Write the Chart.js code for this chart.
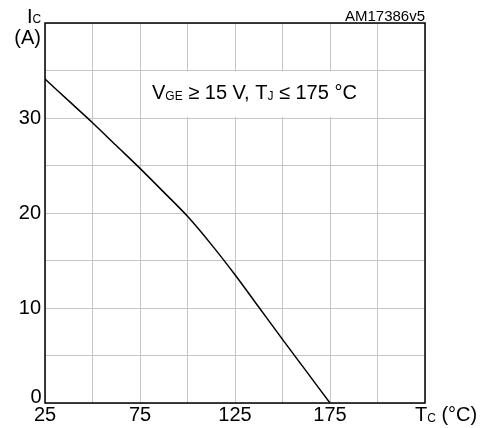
<!DOCTYPE html>
<html>
<head>
<meta charset="utf-8">
<script src="https://cdn.jsdelivr.net/npm/chart.js@4"></script>
<style>
    html, body { margin: 0; padding: 0; background: #fff; }
    #wrap { width: 488px; height: 428px; position: relative; }
</style>
</head>
<body>
<div id="wrap"><canvas id="chart-derating"></canvas></div>
<script>
/**
 * Collector current vs. case temperature (derating curve).
 */

const CASE_TEMP = [25, 37.5, 50, 62.5, 75, 87.5, 100, 112.5, 125, 137.5, 150, 162.5, 175];
const COLLECTOR_CURRENT = [34.1, 31.8, 29.5, 27.1, 24.7, 22.2, 19.65, 16.7, 13.5, 10.1, 6.7, 3.35, 0];
const X_TICK_LABELS = [25, 75, 125, 175];
const Y_TICK_LABELS = [10, 20, 30];

const FONT = '"Liberation Sans", Arial, sans-serif';
const GRID_COLOR = '#c6c6c6';

// draw a run of [text, size, baselineShift] pieces left to right
function drawRuns(ctx, x, y, runs) {
    runs.forEach(([txt, size, dy]) => {
        ctx.font = `${size}px ${FONT}`;
        ctx.fillText(txt, x, y + dy);
        x += ctx.measureText(txt).width;
    });
}

const decorations = {
    id: 'decorations',
    beforeDatasetsDraw(chart) {
        const { ctx, scales: { x, y } } = chart;
        // white box holding the test conditions
        const left = x.getPixelForValue(75);
        const right = x.getPixelForValue(200);
        const top = y.getPixelForValue(35);
        const bottom = y.getPixelForValue(30);
        ctx.save();
        ctx.fillStyle = '#fff';
        ctx.fillRect(left + 1, top + 1, right - left - 2, bottom - top - 2);
        ctx.fillStyle = '#000';
        ctx.textAlign = 'left';
        ctx.textBaseline = 'alphabetic';
        drawRuns(ctx, left + 12, bottom - 19.5, [
            ['V', 20, 0], ['GE', 12, 1.7], [' \u2265 15 V, T', 20, 0], ['J', 12, 1.7], [' \u2264 175 \u00b0C', 20, 0],
        ]);
        ctx.restore();
    },
    afterDraw(chart) {
        const { ctx, chartArea: a, scales: { y } } = chart;
        ctx.save();
        ctx.strokeStyle = '#000';
        ctx.lineWidth = 1.5;
        ctx.strokeRect(a.left, a.top, a.right - a.left, a.bottom - a.top);

        ctx.fillStyle = '#000';
        ctx.textBaseline = 'alphabetic';
        ctx.textAlign = 'left';
        // y axis title
        drawRuns(ctx, 27, 22.7, [['I', 20, 0], ['C', 12, 0.6]]);
        ctx.textAlign = 'right';
        ctx.font = `20px ${FONT}`;
        ctx.fillText('(A)', 41, 44);
        // zero label sits a little above its grid line
        ctx.fillText('0', 41.5, y.getPixelForValue(0) - 0.5);
        // figure id
        ctx.font = `15px ${FONT}`;
        ctx.fillText('AM17386v5', 425, 21);
        // x axis title
        ctx.textAlign = 'left';
        drawRuns(ctx, 415, 421, [['T', 20, 0], ['C', 12, 0.6], [' (\u00b0C)', 20, 0]]);
        ctx.restore();
    },
};

new Chart(document.getElementById('chart-derating'), {
    type: 'scatter',
    data: {
        datasets: [{
            data: CASE_TEMP.map((t, i) => ({ x: t, y: COLLECTOR_CURRENT[i] })),
            showLine: true,
            borderColor: '#000',
            borderWidth: 1.5,
            pointRadius: 0,
            cubicInterpolationMode: 'monotone',
        }],
    },
    options: {
        responsive: true,
        maintainAspectRatio: false,
        animation: false,
        layout: { padding: { top: 23, right: 63, left: 0, bottom: 0 } },
        plugins: {
            legend: { display: false },
            tooltip: { enabled: false },
        },
        scales: {
            x: {
                type: 'linear',
                min: 25,
                max: 225,
                afterFit: s => { s.height = 25; },
                ticks: {
                    stepSize: 25,
                    autoSkip: false,
                    maxRotation: 0,
                    padding: 0,
                    color: '#000',
                    font: { family: FONT, size: 20 },
                    callback: v => X_TICK_LABELS.includes(v) ? String(v) : '',
                },
                grid: { color: GRID_COLOR, lineWidth: 1, drawTicks: false },
                border: { display: false },
            },
            y: {
                min: 0,
                max: 40,
                afterFit: s => { s.width = 45; },
                ticks: {
                    stepSize: 5,
                    autoSkip: false,
                    padding: 4,
                    color: '#000',
                    font: { family: FONT, size: 20 },
                    callback: v => Y_TICK_LABELS.includes(v) ? String(v) : '',
                },
                grid: { color: GRID_COLOR, lineWidth: 1, drawTicks: false },
                border: { display: false },
            },
        },
    },
    plugins: [decorations],
});
</script>
</body>
</html>
